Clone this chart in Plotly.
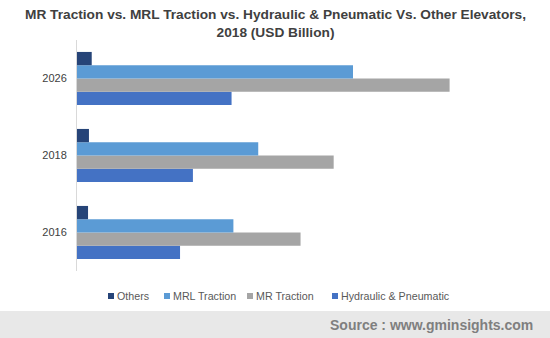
import plotly.graph_objects as go

years = ["2016", "2018", "2026"]
others = [1.2, 1.3, 1.6]
mrl_traction = [17.0, 19.7, 30.0]
mr_traction = [24.3, 27.9, 40.5]
hydraulic = [11.2, 12.6, 16.8]

# bottom-to-top order inside each year group
series = [
    ("Hydraulic & Pneumatic", hydraulic, "#4472C4"),
    ("MR Traction", mr_traction, "#A5A5A5"),
    ("MRL Traction", mrl_traction, "#5B9BD5"),
    ("Others", others, "#264478"),
]

# plot area in pixels: left 77, width 460, top 40, height 231
L, W, T, H = 77, 460, 40, 231


def px_x(p):
    return (p - L) / W


def px_y(p):
    return (T + H - p) / H


fig = go.Figure()
for name, vals, color in series:
    fig.add_trace(go.Bar(
        y=years, x=vals, name=name, orientation="h",
        marker=dict(color=color, line=dict(width=0)),
        hoverinfo="x+name", showlegend=False,
    ))

shapes = [dict(
    type="rect", xref="paper", yref="paper",
    x0=-1, x1=2, y0=px_y(311), y1=-2,
    fillcolor="#e8e8e8", line=dict(width=0), layer="below",
)]
annotations = [
    dict(
        text="<b>MR Traction vs. MRL Traction vs. Hydraulic & Pneumatic Vs. Other Elevators,<br>2018 (USD Billion)</b>",
        xref="paper", yref="paper", x=px_x(275), xanchor="center",
        y=px_y(24), yanchor="middle", showarrow=False,
        font=dict(size=13.7, color="#404040"),
    ),
    dict(
        text="<b>Source : www.gminsights.com</b>",
        xref="paper", yref="paper", x=px_x(535), xanchor="right",
        y=px_y(325), yanchor="middle",
        showarrow=False, font=dict(size=14, color="#7f7f7f"),
    ),
]

# legend row: colour key square followed by its label
legend_pos = [108, 164, 247, 332]
for (name, _, color), x0 in zip(series[::-1], legend_pos):
    shapes.append(dict(
        type="rect", xref="paper", yref="paper",
        x0=px_x(x0), x1=px_x(x0 + 6), y0=px_y(299), y1=px_y(293),
        fillcolor=color, line=dict(width=0),
    ))
    annotations.append(dict(
        text=name, xref="paper", yref="paper",
        x=px_x(x0 + 7), xanchor="left", y=px_y(295.5), yanchor="middle",
        showarrow=False, font=dict(size=10.7, color="#595959"),
    ))

fig.update_layout(
    width=550, height=338,
    margin=dict(l=L, r=550 - L - W, t=T, b=338 - T - H),
    paper_bgcolor="white", plot_bgcolor="white",
    barmode="group", bargap=0.31, bargroupgap=0,
    font=dict(family="Liberation Sans, Arial, sans-serif", color="#404040", size=11),
    xaxis=dict(range=[0, 50], showgrid=False, zeroline=False, showticklabels=False,
               showline=False, ticks="", fixedrange=True),
    yaxis=dict(showgrid=False, zeroline=False, showline=True, linecolor="#d9d9d9",
               linewidth=1, ticks="", ticklabelstandoff=7,
               tickfont=dict(size=11, color="#404040")),
    showlegend=False,
    shapes=shapes,
    annotations=annotations,
)

fig.write_html("out.html")
